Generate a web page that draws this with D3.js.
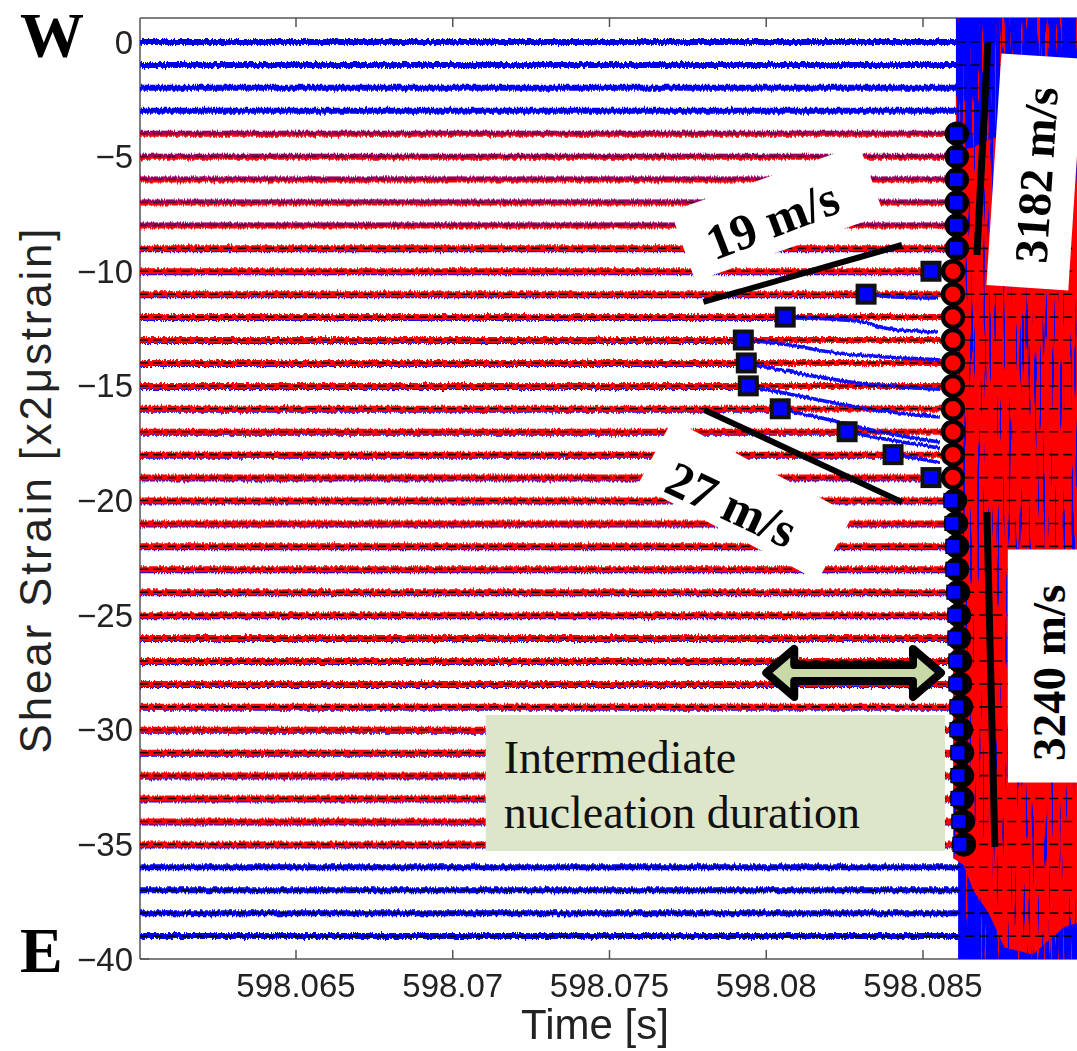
<!DOCTYPE html>
<html><head><meta charset="utf-8">
<script src="https://cdn.jsdelivr.net/npm/d3@7"></script>
<style>body{margin:0;background:#fff}</style>
</head><body><svg id="c" width="1077" height="1051"></svg>
<script>
// ================= DATA =================
const stations = [0,-1,-2,-3,-4,-5,-6,-7,-8,-9,-10,-11,-12,-13,-14,-15,-16,-17,-18,-19,
  -20,-21,-22,-23,-24,-25,-26,-27,-28,-29,-30,-31,-32,-33,-34,-35,-36,-37,-38,-39];
// B = blue only, M = red with blue on top, R = blue under red
const traceKind = ["B","B","B","B","M","M","M","M","M","R","R","R","R","R","R","R","R","R","R","R",
  "R","R","R","R","R","R","R","R","R","R","R","R","R","R","R","R","B","B","B","B"];
const onsetTimes = [598.08608,598.08608,598.08608,598.08608,598.08608,598.08608,598.08608,598.08608,598.08608,598.08608,
  598.08596,598.08596,598.08596,598.08596,598.08596,598.08596,598.08596,598.08596,598.08596,598.08596,
  598.085892,598.085924,598.085955,598.085955,598.085987,598.086019,598.086019,598.086051,598.086051,598.086083,
  598.086083,598.086115,598.086115,598.086115,598.086146,598.086178,598.08618,598.08618,598.08618,598.08618];
const tStart = 598.0600, tEnd = 598.0900;

const xTickValues = [598.065, 598.070, 598.075, 598.080, 598.085];
const xTickLabels = ["598.065","598.07","598.075","598.08","598.085"];
const yTickValues = [0,-5,-10,-15,-20,-25,-30,-35,-40];
const yTickLabels = ["0","\u22125","\u221210","\u221215","\u221220","\u221225","\u221230","\u221235","\u221240"];

// nucleation front (blue squares)
const nucStations = [-10,-11,-12,-13,-14,-15,-16,-17,-18,-19];
const nucTimes = [598.085255,598.083185,598.080605,598.079268,598.079363,598.079427,598.080446,598.082580,598.084045,598.085255];

// blue trace deflections after nucleation passage [time, strain]
const deflect11 = [[598.083185,-11.00],[598.084108,-11.12],[598.085478,-11.17]];
const deflect12 = [[598.080605,-12.00],[598.082898,-12.17],[598.083949,-12.52],[598.085446,-12.65]];
const deflect13 = [[598.079268,-13.00],[598.080764,-13.22],[598.082038,-13.52],[598.083408,-13.70],[598.085541,-13.87]];
const deflect14 = [[598.079363,-14.00],[598.080764,-14.39],[598.082675,-14.83],[598.085541,-15.15]];
const deflect15 = [[598.079427,-15.00],[598.081083,-15.45],[598.082994,-15.95],[598.085541,-16.36]];
const deflect16 = [[598.080446,-16.00],[598.082038,-16.49],[598.083631,-17.01],[598.085541,-17.45]];
const deflect17 = [[598.082580,-17.00],[598.083949,-17.36],[598.085541,-17.71]];
const deflect18 = [[598.084045,-18.00],[598.084745,-18.15],[598.085541,-18.36]];
const deflections = [[-11,deflect11],[-12,deflect12],[-13,deflect13],[-14,deflect14],
  [-15,deflect15],[-16,deflect16],[-17,deflect17],[-18,deflect18]];

// main rupture front markers
const frontStations = [-4,-5,-6,-7,-8,-9,-10,-11,-12,-13,-14,-15,-16,-17,-18,-19,
  -20,-21,-22,-23,-24,-25,-26,-27,-28,-29,-30,-31,-32,-33,-34,-35];
const frontCircleTimes = [598.08608,598.08608,598.08608,598.08608,598.08608,598.08608,
  598.085955,598.085955,598.085955,598.085955,598.085955,598.085955,598.085955,598.085955,598.085955,598.085955,
  598.086019,598.086051,598.086083,598.086083,598.086115,598.086146,598.086146,598.086178,598.086178,598.086210,
  598.086210,598.086242,598.086242,598.086242,598.086274,598.086306];
const frontSquareTimes = [598.08606,598.08606,598.08606,598.08606,598.08606,598.08606,
  null,null,null,null,null,null,null,null,null,null,
  598.085892,598.085924,598.085955,598.085955,598.085987,598.086019,598.086019,598.086051,598.086051,598.086083,
  598.086083,598.086115,598.086115,598.086115,598.086146,598.086178];

// post-rupture coda envelopes [time, upper, lower]
const blueBottomCoda = [[598.08612,-35.5,-40.2],[598.0900,-35.5,-40.2]];
const redMidCoda = [[598.08596,-4.0,-35.6],[598.08630,-4.0,-35.9],[598.08660,-4.0,-37.0],[598.08710,-4.0,-38.0],
  [598.08760,-4.0,-39.5],[598.08850,-4.0,-39.8],[598.08950,-4.0,-38.6],[598.0900,-4.0,-38.4]];
const blueTopCoda = [[598.08605,1.2,-4.75],[598.08660,1.2,-4.6],[598.08720,1.2,-4.2],[598.08820,1.2,-4.0],[598.0900,1.2,-4.0]];

// velocity fit lines [t1,s1,t2,s2]
const speedLines = [
  {label:"19", pts:[598.077994,-11.34,598.084331,-8.855], w:6},
  {label:"27", pts:[598.078025,-16.05,598.084331,-20.07], w:6},
  {label:"3182", pts:[598.087070,-0.04,598.086720,-9.29], w:7},
  {label:"3240", pts:[598.087038,-20.50,598.087293,-35.11], w:7}
];
// labels: box centre in data units, box size px, angles
const speedLabels = [
  {text:"19 m/s", bt:598.080350, bs:-7.46, bw:200, bh:74, ba:-19.5, tt:598.080191, ts:-7.75, ta:-21, fs:50},
  {text:"27 m/s", bt:598.079331, bs:-19.98, bw:204, bh:74, ba:28, tt:598.078900, ts:-20.15, ta:25, fs:50},
  {text:"3182 m/s", bt:598.088567, bs:-5.67, bw:82, bh:232, ba:3.7, tt:598.088600, ts:-5.80, ta:-86.3, fs:47},
  {text:"3240 m/s", bt:598.089045, bs:-27.22, bw:84, bh:233, ba:0, tt:598.088990, ts:-27.52, ta:-90, fs:47}
];
const noteBox = {t1:598.071051, t2:598.085701, s1:-29.36, s2:-35.29};
const noteLines = ["Intermediate","nucleation duration"];
const noteLineT = 598.071624, noteLineS = [-31.89,-34.29];
const arrow = {t1:598.080000, t2:598.085573, s:-27.52};

// ================= DRAW =================
const W = 1077, H = 1051;
const x = d3.scaleLinear().domain([598.065, 598.085]).range([296, 923]);
const y = d3.scaleLinear().domain([-40, 0]).range([959, 42]);
const plotL = 140, plotR = 1077, plotT = 18, plotB = 959;
const svg = d3.select("#c");
const defs = svg.append("defs");
defs.append("clipPath").attr("id","clip").append("rect")
  .attr("x",plotL).attr("y",plotT).attr("width",plotR-plotL).attr("height",plotB-plotT);

function jitter(id, freq, scale, seed){
  const f = defs.append("filter").attr("id",id).attr("filterUnits","userSpaceOnUse")
    .attr("x",0).attr("y",0).attr("width",W).attr("height",H);
  f.append("feTurbulence").attr("type","fractalNoise").attr("baseFrequency",freq)
    .attr("numOctaves",2).attr("seed",seed).attr("result","n");
  f.append("feDisplacementMap").attr("in","SourceGraphic").attr("in2","n").attr("scale",scale)
    .attr("xChannelSelector","B").attr("yChannelSelector","G");
}
jitter("fuzz","0.7 0.04",5,4);
jitter("fuzz2","0.5 0.05",4,9);

function streakFilter(id, rgb, seed, thr, freq){
  const s = defs.append("filter").attr("id",id).attr("filterUnits","userSpaceOnUse")
    .attr("x",900).attr("y",0).attr("width",200).attr("height",1000)
    .attr("color-interpolation-filters","sRGB");
  s.append("feTurbulence").attr("type","fractalNoise").attr("baseFrequency",freq)
    .attr("numOctaves",2).attr("seed",seed).attr("result","t");
  s.append("feColorMatrix").attr("in","t").attr("type","matrix")
    .attr("values",`0 0 0 0 ${rgb[0]} 0 0 0 0 ${rgb[1]} 0 0 0 0 ${rgb[2]} 18 0 0 0 ${-18*thr}`).attr("result","m");
  s.append("feComposite").attr("in","m").attr("in2","SourceGraphic").attr("operator","in");
}
streakFilter("streakBlue",[0,0,1],7,0.62,"0.35 0.01");
streakFilter("streakRed",[1,0,0],13,0.64,"0.35 0.012");

// frame
const frame = svg.append("g").attr("stroke","#555").attr("stroke-width",1.5).attr("fill","none");
frame.append("line").attr("x1",plotL).attr("x2",plotL).attr("y1",plotT).attr("y2",plotB);
frame.append("line").attr("x1",plotL).attr("x2",plotR).attr("y1",plotB).attr("y2",plotB);
frame.append("line").attr("x1",plotL).attr("x2",plotR).attr("y1",plotT).attr("y2",plotT);
xTickValues.forEach(v=>{
  frame.append("line").attr("x1",x(v)).attr("x2",x(v)).attr("y1",plotB).attr("y2",plotB-9);
  frame.append("line").attr("x1",x(v)).attr("x2",x(v)).attr("y1",plotT).attr("y2",plotT+9);
});
yTickValues.forEach(v=>{
  frame.append("line").attr("x1",plotL).attr("x2",plotL+9).attr("y1",y(v)).attr("y2",y(v));
});

const plot = svg.append("g").attr("clip-path","url(#clip)");
const area = d3.area().x(d=>x(d[0])).y0(d=>y(d[1])).y1(d=>y(d[2]));
plot.append("path").attr("d",area(blueBottomCoda)).attr("fill","#0000ff");
plot.append("path").attr("d",area(blueBottomCoda)).attr("fill","#000").attr("filter","url(#streakRed)");
plot.append("path").attr("d",area(redMidCoda)).attr("fill","#ff0000");
plot.append("path").attr("d",area(redMidCoda)).attr("fill","#000").attr("filter","url(#streakBlue)");
plot.append("path").attr("d",area(blueTopCoda)).attr("fill","#0000ff");
plot.append("path").attr("d",area(blueTopCoda)).attr("fill","#000").attr("filter","url(#streakRed)");

// quiet traces
const line = d3.line().x(d=>x(d[0])).y(d=>y(d[1]));
const traces = plot.append("g").attr("filter","url(#fuzz)").attr("fill","none");
stations.forEach((s,i)=>{
  const k = traceKind[i];
  const seg = [[tStart,s],[onsetTimes[i],s]];
  const def = deflections.find(d=>d[0]===s);
  if (k==="B"){
    traces.append("path").attr("d",line(seg)).attr("stroke","#0000ff").attr("stroke-width",6);
    traces.append("path").attr("d",line(seg)).attr("stroke","#000060").attr("stroke-width",1.3).attr("opacity",0.4);
  } else if (k==="M"){
    traces.append("path").attr("d",line(seg)).attr("stroke","#ff0000").attr("stroke-width",6);
    traces.append("path").attr("d",line(seg)).attr("stroke","#0000ff").attr("stroke-width",3.5)
      .attr("opacity",0.4).attr("transform","translate(0,-1.2)");
  } else {
    traces.append("path").attr("d",line([[tStart,s],[def?def[1][0][0]:onsetTimes[i],s]])).attr("stroke","#0000ff").attr("stroke-width",4)
      .attr("transform","translate(0,2)");
    traces.append("path").attr("d",line(seg)).attr("stroke","#ff0000").attr("stroke-width",6);
  }
});
// blue deflection curves
const curveLine = d3.line().x(d=>x(d[0])).y(d=>y(d[1])).curve(d3.curveMonotoneX);
const defl = plot.append("g").attr("filter","url(#fuzz2)").attr("fill","none");
deflections.forEach(([s,pts])=>{
  defl.append("path").attr("d",curveLine(pts)).attr("stroke","#0a0aff").attr("stroke-width",3.6);
});

// dashed baselines
const dashes = plot.append("g").attr("fill","none").attr("stroke","#000").attr("stroke-width",1.6)
  .attr("stroke-dasharray","9,5");
stations.forEach((s,i)=>{
  const t0 = traceKind[i]==="B" && s>-4 ? onsetTimes[i] : tStart;
  dashes.append("path").attr("d",line([[t0,s],[tEnd,s]]))
    .attr("opacity", traceKind[i]==="M" ? 0.45 : 0.9);
});

// axis labels
const sans = "'Liberation Sans', Arial, Helvetica, sans-serif";
const serif = "'Liberation Serif', 'Times New Roman', Times, serif";
svg.append("g").selectAll("text").data(yTickValues).join("text")
  .attr("x",133).attr("y",d=>y(d)).attr("dy","0.35em").attr("text-anchor","end")
  .attr("font-family",sans).attr("font-size",33).attr("fill","#222").text((d,i)=>yTickLabels[i]);
svg.append("g").selectAll("text").data(xTickValues).join("text")
  .attr("x",d=>x(d)).attr("y",997).attr("text-anchor","middle")
  .attr("font-family",sans).attr("font-size",33).attr("fill","#222").text((d,i)=>xTickLabels[i]);
svg.append("text").attr("x",595).attr("y",1039).attr("text-anchor","middle")
  .attr("font-family",sans).attr("font-size",42).attr("fill","#222").text("Time [s]");
svg.append("text").attr("transform","translate(51,491) rotate(-90)").attr("text-anchor","middle")
  .attr("font-family",sans).attr("font-size",44).attr("fill","#222")
  .attr("textLength",525).attr("lengthAdjust","spacing").text("Shear Strain [x2\u03bcstrain]");
svg.append("text").attr("x",20).attr("y",57).attr("font-family",serif).attr("font-weight","bold")
  .attr("font-size",64).text("W");
svg.append("text").attr("x",20).attr("y",972).attr("font-family",serif).attr("font-weight","bold")
  .attr("font-size",64).text("E");

// annotations
const ann = svg.append("g").attr("clip-path","url(#clip)");
speedLabels.forEach(l=>{
  ann.append("rect").attr("x",-l.bw/2).attr("y",-l.bh/2).attr("width",l.bw).attr("height",l.bh)
    .attr("fill","#fff")
    .attr("transform",`translate(${x(l.bt)},${y(l.bs)}) rotate(${l.ba})`);
});
speedLabels.forEach(l=>{
  ann.append("text").attr("text-anchor","middle").attr("dy","0.35em")
    .attr("font-family",serif).attr("font-weight","bold").attr("font-size",l.fs).attr("fill","#000")
    .attr("transform",`translate(${x(l.tt)},${y(l.ts)}) rotate(${l.ta})`).text(l.text);
});
speedLines.forEach(l=>{
  ann.append("line").attr("x1",x(l.pts[0])).attr("y1",y(l.pts[1]))
    .attr("x2",x(l.pts[2])).attr("y2",y(l.pts[3]))
    .attr("stroke","#000").attr("stroke-width",l.w);
});
// note box
ann.append("rect").attr("x",x(noteBox.t1)).attr("y",y(noteBox.s1))
  .attr("width",x(noteBox.t2)-x(noteBox.t1)).attr("height",y(noteBox.s2)-y(noteBox.s1))
  .attr("fill","#dde6c8");
noteLines.forEach((t,i)=>{
  ann.append("text").attr("x",x(noteLineT)).attr("y",y(noteLineS[i]))
    .attr("font-family",serif).attr("font-size",46).attr("fill","#111").text(t);
});
// double arrow
{
  const x1 = x(arrow.t1), x2 = x(arrow.t2), yc = y(arrow.s);
  const hl = 28, hh = 24, sh = 8;
  const pts = [[x1,yc],[x1+hl,yc-hh],[x1+hl,yc-sh],[x2-hl,yc-sh],[x2-hl,yc-hh],[x2,yc],
    [x2-hl,yc+hh],[x2-hl,yc+sh],[x1+hl,yc+sh],[x1+hl,yc+hh]];
  ann.append("path").attr("d",d3.line()(pts)+"Z").attr("fill","#c9d8a7")
    .attr("stroke","#000").attr("stroke-width",8).attr("stroke-linejoin","round");
}

// markers
const mk = svg.append("g");
mk.selectAll("rect.nuc").data(nucStations).join("rect").attr("class","nuc")
  .attr("x",(d,i)=>x(nucTimes[i])-8.5).attr("y",d=>y(d)-8.5).attr("width",17).attr("height",17)
  .attr("fill","#0000ff").attr("stroke","#111").attr("stroke-width",4);
mk.selectAll("circle.front").data(frontStations).join("circle").attr("class","front")
  .attr("cx",(d,i)=>x(frontCircleTimes[i])).attr("cy",d=>y(d)).attr("r",10)
  .attr("fill",(d,i)=>frontSquareTimes[i]===null ? "#ff0000" : "#000")
  .attr("stroke","#000").attr("stroke-width",4.5);
const sqData = frontStations.map((s,i)=>[s,frontSquareTimes[i]]).filter(d=>d[1]!==null);
mk.selectAll("rect.front").data(sqData).join("rect").attr("class","front")
  .attr("x",d=>x(d[1])-7).attr("y",d=>y(d[0])-7).attr("width",14).attr("height",14)
  .attr("fill","#0000ff").attr("stroke","#000").attr("stroke-width",1.2);
</script></body></html>
